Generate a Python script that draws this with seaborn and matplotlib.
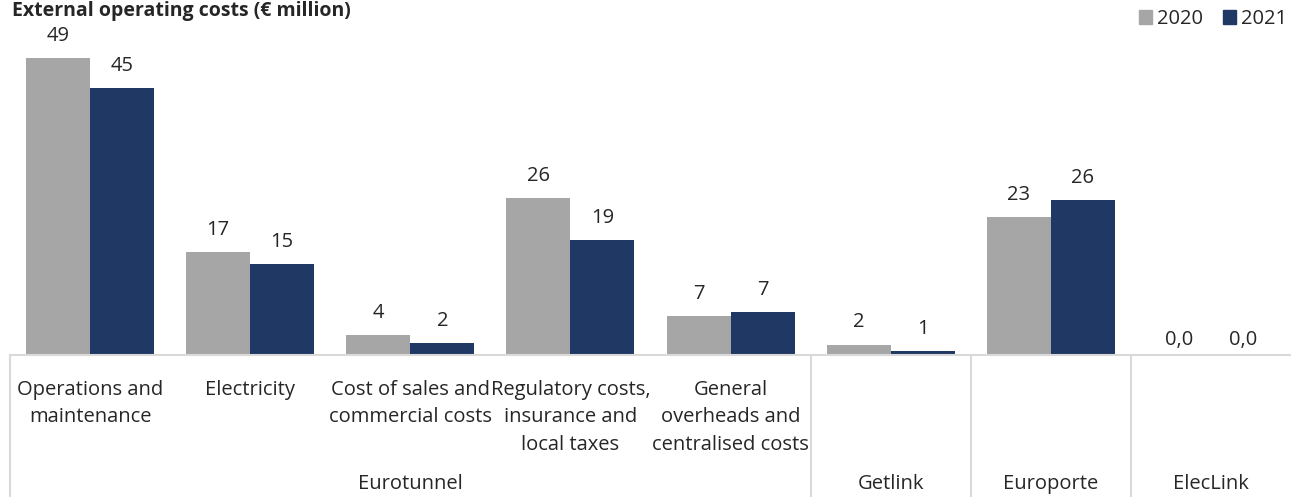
import pandas as pd
import numpy as np
import matplotlib.pyplot as plt
import matplotlib.patches as mpatches
import matplotlib.transforms as mtransforms
import seaborn as sns

# ── DATA ─────────────────────────────────────────────────
items = ["Operations and\nmaintenance", "Electricity", "Cost of sales and\ncommercial costs",
         "Regulatory costs,\ninsurance and\nlocal taxes", "General\noverheads and\ncentralised costs",
         "Getlink", "Europorte", "ElecLink"]
tick_labels = items[:5] + ["", "", ""]
groups = ["Eurotunnel", "Getlink", "Europorte", "ElecLink"]
group_sizes = [5, 1, 1, 1]
years = ["2020", "2021"]
v2020 = [49.0, 17.0, 3.3, 25.9, 6.4, 1.7, 22.8, 0.0]
v2021 = [44.0, 15.0, 2.0, 19.0, 7.1, 0.7, 25.6, 0.0]
lab2020 = ["49", "17", "4", "26", "7", "2", "23", "0,0"]
lab2021 = ["45", "15", "2", "19", "7", "1", "26", "0,0"]
colors = ["#A6A6A6", "#1F3864"]

df = pd.DataFrame({
    "item": items * 2,
    "year": [years[0]] * len(items) + [years[1]] * len(items),
    "value": v2020 + v2021,
})

# ── STYLE ─────────────────────────────────────────────────
sns.set_theme(style="white")
plt.rcParams["font.family"] = ["Open Sans", "DejaVu Sans"]
grid_col = "#D9D9D9"
fs = 14.5

fig = plt.figure(figsize=(12.91, 4.97), dpi=100)
ax = fig.add_axes([10 / 1291, 1 - 355 / 497, 1 - 10 / 1291, 355 / 497])

sns.barplot(data=df, x="item", y="value", hue="year", palette=colors,
            width=0.8, ax=ax, legend=False, saturation=1, linewidth=0)

ax.set_xlim(-0.5, len(items) - 0.5)
ax.set_ylim(0, 355 / 6.06)
ax.set_xlabel("")
ax.set_ylabel("")
ax.set_yticks([])
for s in ["top", "right", "left"]:
    ax.spines[s].set_visible(False)
ax.spines["bottom"].set_color(grid_col)
ax.spines["bottom"].set_linewidth(1.5)

ax.set_xticks(range(len(items)))
ax.set_xticklabels(tick_labels, fontsize=fs)
ax.tick_params(axis="x", length=0, pad=18)
for t in ax.get_xticklabels():
    t.set_linespacing(1.5)

# value labels
for cont, labs in zip(ax.containers, [lab2020, lab2021]):
    for p, lab in zip(cont.patches, labs):
        h = p.get_height()
        off = 16 if h > 0 else 11
        ax.annotate(lab, (p.get_x() + p.get_width() / 2, h), xytext=(0, off),
                    textcoords="offset points", ha="center", va="center", fontsize=fs)

# group separators and group labels
trans = mtransforms.blended_transform_factory(ax.transData, ax.transAxes)
start = -0.5
ax.plot([start, start], [0, -0.45], color=grid_col, lw=1.5, transform=trans, clip_on=False)
for g, n in zip(groups, group_sizes):
    end = start + n
    if end < len(items) - 0.5:
        ax.plot([end, end], [0, -0.45], color=grid_col, lw=1.5, transform=trans, clip_on=False)
    ax.text((start + end) / 2, -(489 - 355) / 355, g, transform=trans,
            ha="center", va="baseline", fontsize=fs)
    start = end

# title and legend
fig.text(12 / 1291, 1 - 16 / 497, "External operating costs (€ million)",
         fontsize=14, fontweight="bold", ha="left", va="baseline")
handles = [mpatches.Patch(color=c, label=y) for c, y in zip(colors, years)]
fig.legend(handles=handles, loc="upper right", bbox_to_anchor=(1.004, 1.0), ncol=2,
           frameon=False, fontsize=fs, handlelength=0.65, handleheight=0.65,
           handletextpad=0.25, columnspacing=1.0, borderaxespad=0.05)

plt.savefig("out.png", dpi=100)
